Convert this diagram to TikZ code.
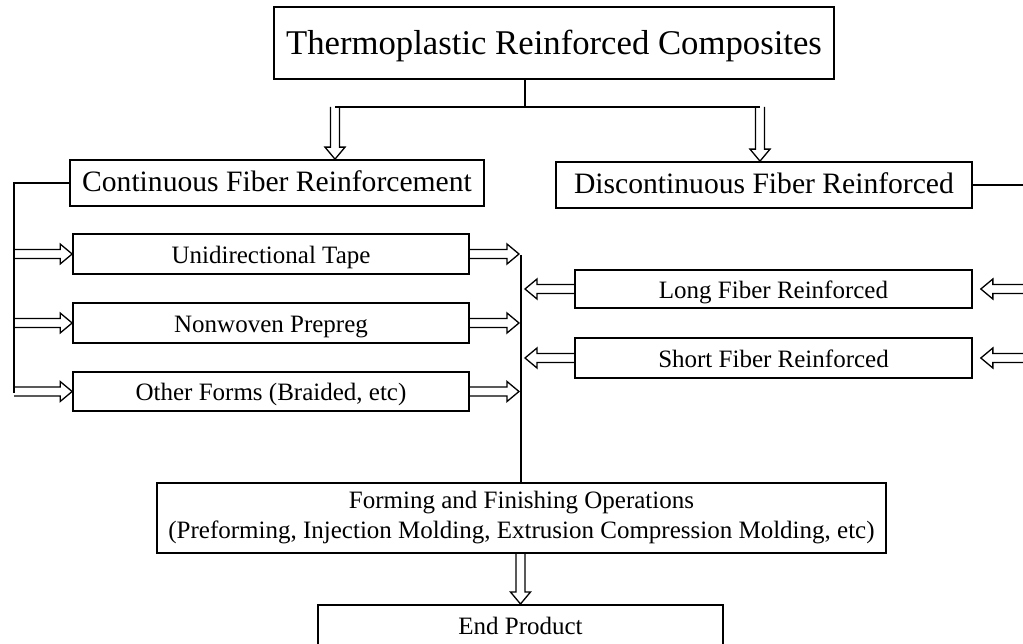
\documentclass[tikz,border=0pt]{standalone}
\usepackage{fontspec}
\setmainfont{Liberation Serif}
\usetikzlibrary{calc}
\begin{document}
\begin{tikzpicture}[x=1pt,y=1pt,
  box/.style={draw, line width=1.7pt, inner sep=0pt, align=center},
  bigbox/.style={box, font=\fontsize{29.6}{34}\selectfont, text height=18pt, text depth=0pt},
  smallbox/.style={box, font=\fontsize{25}{30}\selectfont},
  oneline/.style={text height=19pt, text depth=0pt},
  conn/.style={line width=2.4pt},
  harrow/.style={line width=1.3pt, line join=miter, to path={
    let \p1=(\tikztostart), \p2=(\tikztotarget), \p3=($(\x2,\y2)!12pt!(\x1,\y1)$) in
    ($(\x1,\y1)!4.5pt!90:(\x2,\y2)$) -- ($(\x3,\y3)!4.5pt!-90:(\x1,\y1)$) -- ($(\x3,\y3)!10pt!-90:(\x1,\y1)$)
    -- (\x2,\y2) -- ($(\x3,\y3)!10pt!90:(\x1,\y1)$) -- ($(\x3,\y3)!4.5pt!90:(\x1,\y1)$) -- ($(\x1,\y1)!4.5pt!-90:(\x2,\y2)$)}}]
\useasboundingbox (0,0) rectangle (1023,643);
% title
\node[box, minimum width=560, minimum height=72, font=\fontsize{34.7}{40}\selectfont, text height=24pt, text depth=0pt] (title) at (554,600) {Thermoplastic Reinforced Composites};
% second level
\node[bigbox, minimum width=414, minimum height=46] (cont) at (277,460) {Continuous Fiber Reinforcement};
\node[bigbox, minimum width=416, minimum height=46] (disc) at (764,458) {Discontinuous Fiber Reinforced};
% continuous forms
\node[smallbox, oneline, minimum width=396, minimum height=40] (uni) at (271,389) {Unidirectional Tape};
\node[smallbox, oneline, minimum width=396, minimum height=40] (nonw) at (271,320) {Nonwoven Prepreg};
\node[smallbox, oneline, minimum width=396, minimum height=39] (other) at (271,251.5) {Other Forms (Braided, etc)};
% discontinuous forms
\node[smallbox, oneline, minimum width=397, minimum height=38] (long) at (773.5,354) {Long Fiber Reinforced};
\node[smallbox, oneline, minimum width=397, minimum height=40] (short) at (773.5,285) {Short Fiber Reinforced};
% forming and end product
\node[smallbox, minimum width=729, minimum height=70] (form) at (521.5,125) {Forming and Finishing Operations\\(Preforming, Injection Molding, Extrusion Compression Molding, etc)};
\node[smallbox, oneline, minimum width=405, minimum height=40, anchor=north] (end) at (520.5,39) {End Product};
% coordinates
\coordinate (tj) at (525,536);
\coordinate (tl) at (335,536);
\coordinate (tr) at (760,536);
\coordinate (lbus) at (14,460);
\coordinate (lbusend) at (14,250);
\coordinate (bustop) at (521,388);
\coordinate (rin1) at (1023,354);
\coordinate (rin2) at (1023,285);
\coordinate (rout) at (1023,458);
% top connectors
\draw[conn] (tj |- title.south) -- (tj);
\draw[conn] (tl) -- (tr);
\draw[harrow] (tl) to (tl |- cont.north);
\draw[harrow] (tr) to (tr |- disc.north);
% left bus
\draw[conn] (cont.west) -- (lbus) -- (lbusend);
\draw[conn] (disc.east) -- (rout);
\draw[harrow] (lbus |- uni.west) to (uni.west);
\draw[harrow] (lbus |- nonw.west) to (nonw.west);
\draw[harrow] (lbus |- other.west) to (other.west);
\draw[harrow] (uni.east) to ([xshift=-2pt]bustop |- uni.east);
\draw[harrow] (nonw.east) to ([xshift=-2pt]bustop |- nonw.east);
\draw[harrow] (other.east) to ([xshift=-2pt]bustop |- other.east);
% central bus
\draw[conn] (bustop) -- (bustop |- form.north);
\draw[harrow] (long.west) to ([xshift=4pt]bustop |- long.west);
\draw[harrow] (short.west) to ([xshift=4pt]bustop |- short.west);
\draw[harrow] (rin1) to ([xshift=8pt]long.east);
\draw[harrow] (rin2) to ([xshift=8pt]short.east);
\draw[harrow] (end.north |- form.south) to (end.north);
\end{tikzpicture}
\end{document}
